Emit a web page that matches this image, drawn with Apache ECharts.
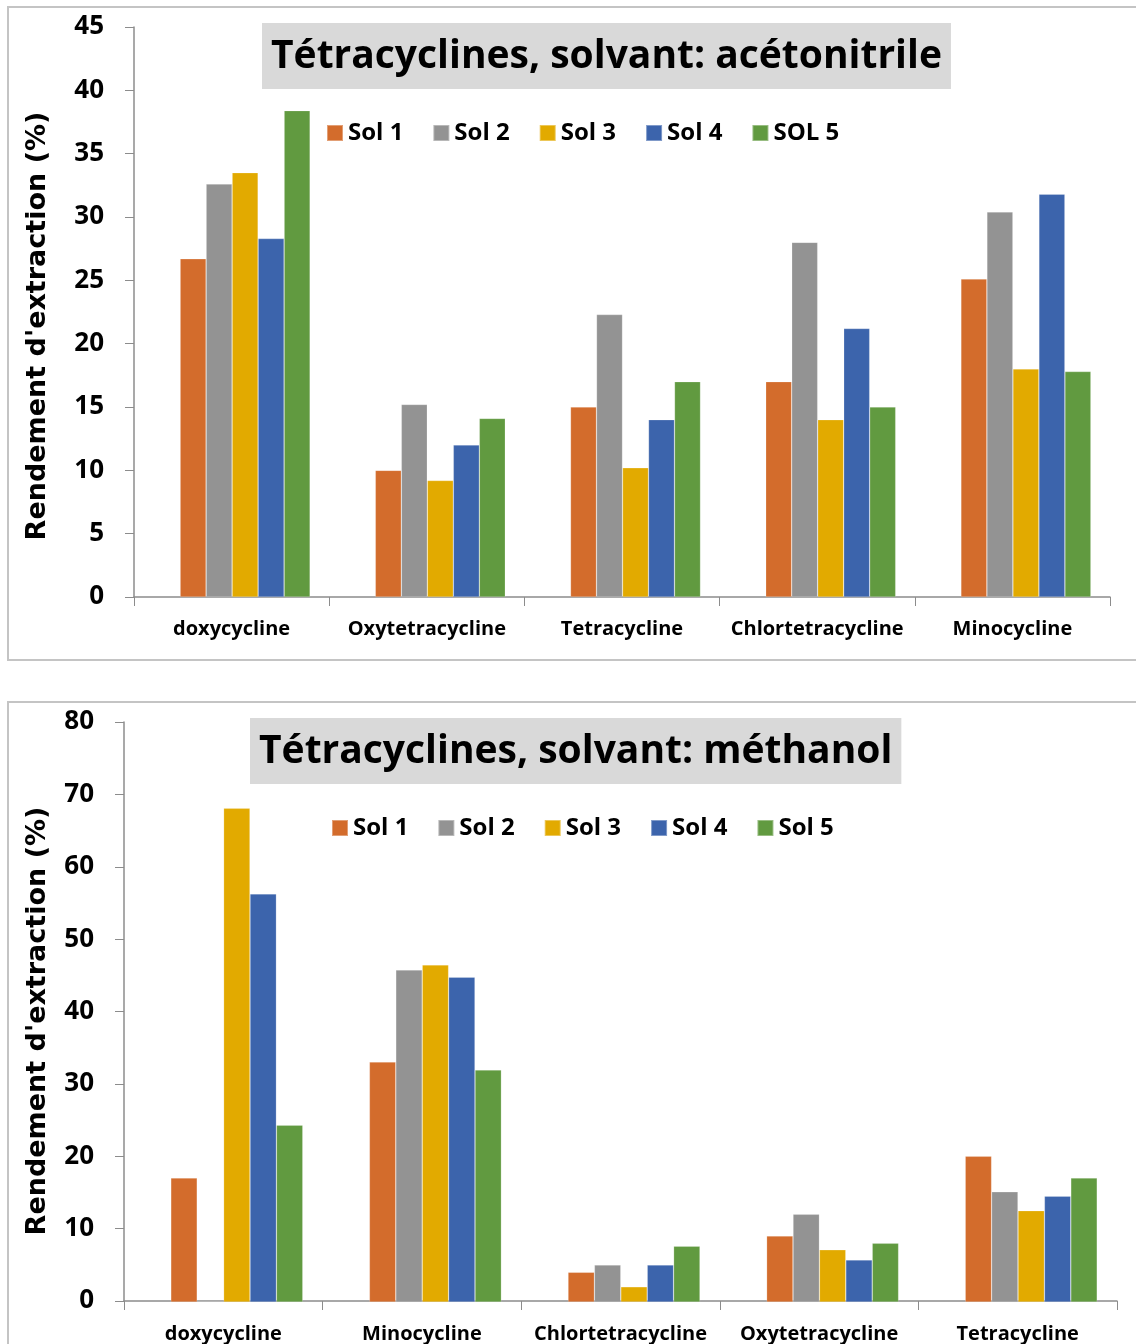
<!DOCTYPE html>
<html>
<head>
<meta charset="utf-8">
<script src="https://cdn.jsdelivr.net/npm/echarts@6/dist/echarts.min.js"></script>
<style>
html,body{margin:0;padding:0;background:#fff;width:1136px;height:1344px;overflow:hidden;}
#c1{position:absolute;left:0;top:0;width:1136px;height:680px;}
#c2{position:absolute;left:0;top:680px;width:1136px;height:664px;}
</style>
</head>
<body>
<div id="c1"></div>
<div id="c2"></div>
<script>
// ---- Data: acetonitrile ----
const catsAcn = ['doxycycline', 'Oxytetracycline', 'Tetracycline', 'Chlortetracycline', 'Minocycline'];
const namesAcn = ['Sol 1', 'Sol 2', 'Sol 3', 'Sol 4', 'SOL 5'];
const acnSol1 = [26.7, 10.0, 15.0, 17.0, 25.1];
const acnSol2 = [32.6, 15.2, 22.3, 28.0, 30.4];
const acnSol3 = [33.5, 9.2, 10.2, 14.0, 18.0];
const acnSol4 = [28.3, 12.0, 14.0, 21.2, 31.8];
const acnSol5 = [38.4, 14.1, 17.0, 15.0, 17.8];
const acnTicks = [0, 45, 5];

// ---- Data: methanol ----
const catsMeoh = ['doxycycline', 'Minocycline', 'Chlortetracycline', 'Oxytetracycline', 'Tetracycline'];
const namesMeoh = ['Sol 1', 'Sol 2', 'Sol 3', 'Sol 4', 'Sol 5'];
const meohSol1 = [17.1, 33.1, 4.1, 9.1, 20.1];
const meohSol2 = [0, 45.8, 5.1, 12.1, 15.2];
const meohSol3 = [68.1, 46.5, 2.1, 7.2, 12.6];
const meohSol4 = [56.3, 44.8, 5.1, 5.8, 14.6];
const meohSol5 = [24.4, 32.0, 7.7, 8.1, 17.1];
const meohTicks = [0, 80, 10];

const colors = ['#D36C2C', '#939393', '#E2AA00', '#3C64AC', '#619A40'];
const FONT = '"Open Sans", sans-serif';

function build(cfg) {
  const series = cfg.data.map((d, i) => ({
    name: cfg.names[i], type: 'bar', data: d,
    xAxisIndex: 1, yAxisIndex: 1,
    barWidth: cfg.barW, barGap: '0%',
    itemStyle: { color: colors[i], borderColor: 'rgba(255,255,255,0.35)', borderWidth: 0.6 },
    emphasis: { disabled: true }
  }));
  return {
    animation: false,
    textStyle: { fontFamily: FONT },
    title: {
      text: cfg.title, left: cfg.titleLeft, top: cfg.titleTop,
      backgroundColor: '#d9d9d9', padding: cfg.titlePad,
      textStyle: { fontFamily: FONT, fontWeight: 700, fontSize: cfg.titleSize, color: '#000', lineHeight: cfg.titleSize }
    },
    legend: {
      data: cfg.names, left: cfg.legLeft, top: cfg.legTop, padding: 0,
      icon: 'rect', itemWidth: 16, itemHeight: 16, itemGap: cfg.legGap,
      textStyle: { fontFamily: FONT, fontWeight: 700, fontSize: 24, color: '#000' },
      selectedMode: false
    },
    graphic: [{
      type: 'rect', z: -10,
      shape: { x: 8, y: cfg.panelTop, width: 1160, height: cfg.panelH },
      style: { fill: '#fff', stroke: '#c4c4c4', lineWidth: 2 }
    }, {
      type: 'text', z: 10,
      x: 38, y: cfg.ytitleY, rotation: Math.PI / 2,
      style: {
        text: "Rendement d'extraction (%)", fill: '#000',
        font: 'bold 27px "DejaVu Sans", Verdana, sans-serif',
        align: 'center', verticalAlign: 'middle'
      }
    }],
    grid: [
      { left: cfg.left, right: cfg.right, top: cfg.top, bottom: cfg.bottom },
      { left: cfg.left + cfg.shift, right: cfg.right - cfg.shift, top: cfg.top, bottom: cfg.bottom }
    ],
    xAxis: [{
      type: 'category', data: cfg.cats, gridIndex: 0,
      axisLine: { lineStyle: { color: '#8c8c8c', width: 1.5 } },
      axisTick: { show: true, length: 9, lineStyle: { color: '#8c8c8c' } },
      axisLabel: { fontFamily: FONT, fontWeight: 700, fontSize: 20, color: '#000', margin: cfg.xMargin, interval: 0 }
    }, {
      type: 'category', data: cfg.cats, gridIndex: 1, show: false
    }],
    yAxis: [{
      type: 'value', gridIndex: 0, min: cfg.ticks[0], max: cfg.ticks[1], interval: cfg.ticks[2],
      axisLine: { show: true, lineStyle: { color: '#8c8c8c', width: 1.5 } },
      axisTick: { show: true, length: 9, lineStyle: { color: '#8c8c8c' } },
      splitLine: { show: false },
      axisLabel: { fontFamily: FONT, fontWeight: 700, fontSize: 26, color: '#000', margin: 30 }
    }, {
      type: 'value', gridIndex: 1, min: cfg.ticks[0], max: cfg.ticks[1], interval: cfg.ticks[2], show: false
    }],
    series: series
  };
}

const c1 = echarts.init(document.getElementById('c1'));
c1.setOption(build({
  cats: catsAcn, names: namesAcn,
  data: [acnSol1, acnSol2, acnSol3, acnSol4, acnSol5],
  ticks: acnTicks,
  title: 'Tétracyclines, solvant: acétonitrile',
  titleLeft: 262, titleTop: 23, titlePad: [14, 9, 13, 9], titleSize: 39,
  legLeft: 326, legTop: 121, legGap: 29,
  panelTop: 7, panelH: 653, ytitleY: 326,
  left: 134, right: 26, top: 27, bottom: 83, shift: 13.5, barW: 26, xMargin: 22
}));

const c2 = echarts.init(document.getElementById('c2'));
c2.setOption(build({
  cats: catsMeoh, names: namesMeoh,
  data: [meohSol1, meohSol2, meohSol3, meohSol4, meohSol5],
  ticks: meohTicks,
  title: 'Tétracyclines, solvant: méthanol',
  titleLeft: 250, titleTop: 38, titlePad: [14, 9, 13, 9], titleSize: 39,
  legLeft: 331, legTop: 136, legGap: 29,
  panelTop: 22, panelH: 700, ytitleY: 341,
  left: 124, right: 19, top: 42, bottom: 42, shift: 13.5, barW: 26.4, xMargin: 23
}));
</script>
</body>
</html>
